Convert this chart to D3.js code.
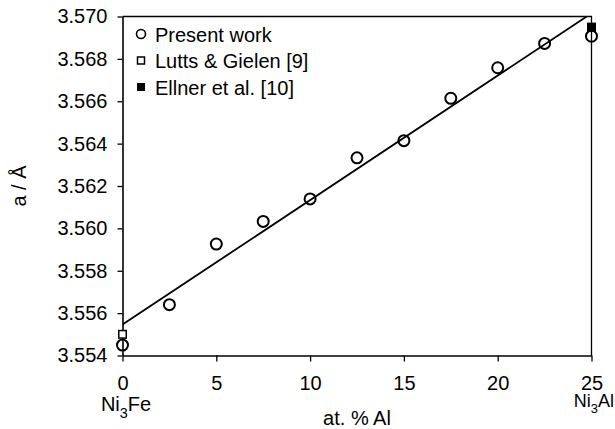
<!DOCTYPE html>
<html>
<head>
<meta charset="utf-8">
<script src="https://cdn.jsdelivr.net/npm/d3@7"></script>
<style>
  html, body { margin: 0; padding: 0; background: #fff; }
  svg { display: block; font-family: "Liberation Sans", Arial, Helvetica, sans-serif; }
</style>
</head>
<body>
<svg id="chart" width="615" height="429"></svg>
<script>
// Lattice parameter of Ni3(Fe,Al) versus Al content
const alPercent   = [0, 2.5, 5, 7.5, 10, 12.5, 15, 17.5, 20, 22.5, 25];
const aPresent    = [3.55449, 3.55640, 3.55926, 3.56033, 3.56139, 3.56333, 3.56414, 3.56614, 3.56758, 3.56873, 3.56907];
const luttsX      = [0];
const luttsA      = [3.5550];
const ellnerX     = [25];
const ellnerA     = [3.5695];
const fitX        = [0, 25];
const fitA        = [3.55546, 3.57015];
const xTicks      = [0, 5, 10, 15, 20, 25];
const yTicks      = [3.554, 3.556, 3.558, 3.560, 3.562, 3.564, 3.566, 3.568, 3.570];
const legendItems = ["Present work", "Lutts & Gielen [9]", "Ellner et al. [10]"];

const svg = d3.select("#chart");
const plot = { left: 122.5, right: 591.5, top: 16.5, bottom: 355.5 };

const x = d3.scaleLinear().domain([0, 25]).range([plot.left, plot.right]);
const y = d3.scaleLinear().domain([3.554, 3.570]).range([plot.bottom, plot.top]);

svg.append("defs").append("clipPath").attr("id", "plot-clip")
  .append("rect")
  .attr("x", plot.left).attr("y", plot.top)
  .attr("width", plot.right - plot.left).attr("height", plot.bottom - plot.top);

// Frame (top and right edges)
svg.append("path")
  .attr("d", `M${plot.left},${plot.top}H${plot.right}V${plot.bottom}`)
  .attr("fill", "none").attr("stroke", "#000").attr("stroke-width", 1.3);

// Axes
const xAxis = svg.append("g")
  .attr("transform", `translate(0,${plot.bottom})`)
  .call(d3.axisBottom(x).tickValues(xTicks).tickFormat(d3.format("d"))
    .tickSizeInner(6).tickSizeOuter(0).tickPadding(14));
const yAxis = svg.append("g")
  .attr("transform", `translate(${plot.left},0)`)
  .call(d3.axisLeft(y).tickValues(yTicks).tickFormat(d3.format(".3f"))
    .tickSizeInner(5).tickSizeOuter(0).tickPadding(10));

[xAxis, yAxis].forEach(g => {
  g.select(".domain").attr("stroke", "#000").attr("stroke-width", 1.6);
  g.selectAll(".tick line").attr("stroke", "#000").attr("stroke-width", 1.3);
  g.selectAll(".tick text").attr("fill", "#000")
    .style("font-size", "20px").style("font-family", "'Liberation Sans', Arial, sans-serif");
});

// Fitted line
svg.append("line")
  .attr("clip-path", "url(#plot-clip)")
  .attr("x1", x(fitX[0])).attr("y1", y(fitA[0]))
  .attr("x2", x(fitX[1])).attr("y2", y(fitA[1]))
  .attr("stroke", "#000").attr("stroke-width", 1.8);

// Lutts & Gielen (open square)
const sq = 7.5;
svg.selectAll("rect.lutts").data(luttsX).join("rect").attr("class", "lutts")
  .attr("x", (d) => x(d) - sq / 2).attr("y", (d, i) => y(luttsA[i]) - sq / 2)
  .attr("width", sq).attr("height", sq)
  .attr("fill", "#fff").attr("stroke", "#000").attr("stroke-width", 1.5);

// Ellner et al. (filled square)
svg.selectAll("rect.ellner").data(ellnerX).join("rect").attr("class", "ellner")
  .attr("x", (d) => x(d) - 4.5).attr("y", (d, i) => y(ellnerA[i]) - 4.5)
  .attr("width", 9).attr("height", 9)
  .attr("fill", "#000");

// Present work (open circles)
svg.selectAll("circle.present").data(alPercent).join("circle").attr("class", "present")
  .attr("cx", (d) => x(d)).attr("cy", (d, i) => y(aPresent[i]))
  .attr("r", 5.5)
  .attr("fill", "none").attr("stroke", "#000").attr("stroke-width", 2);

// Legend
const legend = svg.append("g");
const rowY = [41.5, 68, 94.5];
legendItems.forEach((label, i) => {
  const cy = rowY[i] - 7.5;
  if (i === 0) {
    legend.append("circle").attr("cx", 141).attr("cy", cy).attr("r", 4.5)
      .attr("fill", "none").attr("stroke", "#000").attr("stroke-width", 1.6);
  } else if (i === 1) {
    legend.append("rect").attr("x", 137.5).attr("y", cy - 3.5).attr("width", 7).attr("height", 7)
      .attr("fill", "none").attr("stroke", "#000").attr("stroke-width", 1.5);
  } else {
    legend.append("rect").attr("x", 137).attr("y", cy - 4).attr("width", 8).attr("height", 8)
      .attr("fill", "#000");
  }
  legend.append("text").attr("x", 155).attr("y", rowY[i])
    .style("font-size", "20px").attr("fill", "#000").text(label);
});

// Axis titles
svg.append("text")
  .attr("transform", "translate(26,186) rotate(-90)")
  .attr("text-anchor", "middle")
  .style("font-size", "20px").attr("fill", "#000")
  .text("a / Å");

svg.append("text")
  .attr("x", (plot.left + plot.right) / 2).attr("y", 425)
  .attr("text-anchor", "middle")
  .style("font-size", "20px").attr("fill", "#000")
  .text("at. % Al");

// End-member compositions
function formula(xPos, yPos, anchor, size, pre, sub, post) {
  const t = svg.append("text").attr("x", xPos).attr("y", yPos)
    .attr("text-anchor", anchor).style("font-size", size + "px").attr("fill", "#000");
  t.append("tspan").text(pre);
  t.append("tspan").attr("dy", size * 0.35).style("font-size", (size * 0.72) + "px").text(sub);
  t.append("tspan").attr("dy", -size * 0.35).text(post);
}
formula(126, 411, "middle", 20, "Ni", "3", "Fe");
formula(614, 407, "end", 18, "Ni", "3", "Al");
</script>
</body>
</html>
